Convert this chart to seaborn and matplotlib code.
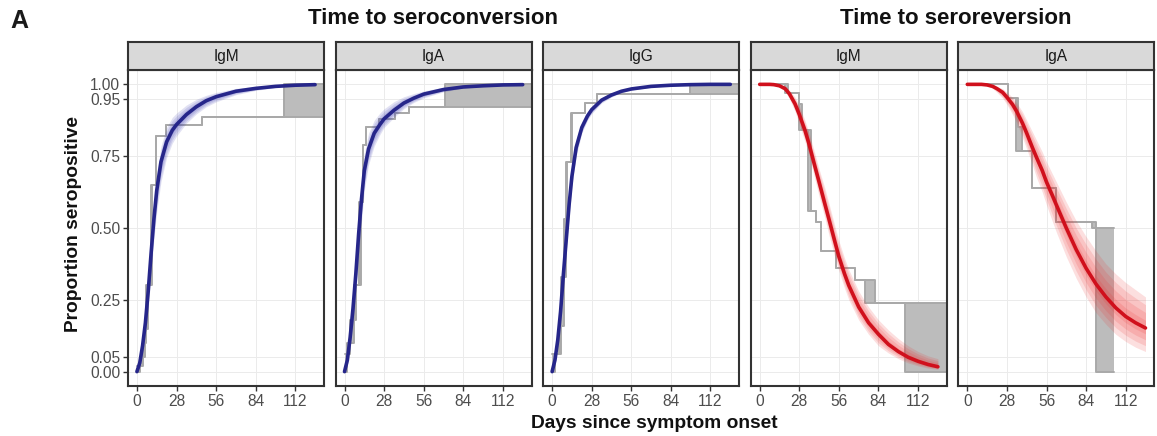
import numpy as np
import pandas as pd
import matplotlib
matplotlib.use("Agg")
import matplotlib.pyplot as plt
import seaborn as sns

# ---------------- data ----------------
conv_days = [0, 2, 4, 6, 8, 10, 12, 14, 17, 21, 25, 28, 35, 42, 49, 56, 70, 84, 98, 112, 126]

igm_conv_fit = [0, .03, .09, .17, .28, .41, .53, .63, .73, .80, .84, .86, .895, .922, .943, .957, .976, .986, .993, .997, .999]
igm_conv_lo = [0, .015, .06, .13, .22, .34, .46, .555, .66, .745, .795, .82, .865, .897, .922, .939, .964, .979, .989, .995, .998]
igm_conv_hi = [0, .045, .12, .21, .33, .47, .59, .69, .785, .85, .885, .90, .928, .948, .962, .972, .986, .993, .997, .999, 1.0]

iga_conv_fit = [0, .04, .12, .22, .34, .48, .60, .70, .775, .83, .86, .88, .91, .935, .952, .966, .982, .991, .995, .998, .999]
iga_conv_lo = [0, .02, .08, .16, .27, .40, .52, .63, .72, .785, .825, .85, .885, .915, .937, .953, .974, .987, .993, .997, .999]
iga_conv_hi = [0, .06, .16, .28, .41, .55, .67, .76, .83, .875, .90, .915, .94, .957, .968, .977, .99, .995, .998, .999, 1.0]

igg_conv_fit = [0, .04, .11, .21, .34, .46, .58, .68, .78, .85, .89, .912, .945, .963, .976, .984, .993, .997, .999, 1.0, 1.0]
igg_conv_lo = [0, .03, .09, .18, .30, .42, .54, .645, .75, .83, .875, .898, .935, .956, .971, .98, .99, .995, .998, .999, 1.0]
igg_conv_hi = [0, .05, .13, .24, .38, .50, .62, .71, .81, .87, .905, .925, .955, .97, .981, .988, .995, .998, 1.0, 1.0, 1.0]

rev_days = [0, 7, 10, 14, 18, 21, 25, 28, 32, 35, 39, 42, 46, 49, 53, 56, 60, 63, 70, 77, 84, 91, 98, 105, 112, 119, 126]

igm_rev_fit = [1, 1, .999, .995, .985, .967, .932, .895, .84, .79, .715, .66, .585, .53, .455, .40, .34, .30, .225, .17, .13, .095, .07, .05, .036, .025, .017]
igm_rev_lo = [1, 1, .997, .99, .975, .95, .905, .86, .80, .75, .67, .61, .535, .475, .40, .35, .29, .25, .18, .13, .09, .065, .045, .03, .02, .012, .008]
igm_rev_hi = [1, 1, 1, .999, .993, .98, .955, .925, .875, .83, .76, .705, .64, .585, .51, .455, .395, .355, .28, .225, .18, .145, .115, .09, .07, .055, .045]

iga_rev_fit = [1, 1, 1, .998, .993, .985, .972, .955, .93, .905, .865, .83, .78, .745, .70, .66, .615, .58, .50, .425, .36, .305, .26, .222, .192, .17, .152]
iga_rev_lo = [1, 1, 1, .995, .985, .972, .952, .93, .895, .865, .815, .775, .72, .675, .625, .58, .525, .485, .40, .325, .26, .205, .165, .13, .105, .085, .07]
iga_rev_hi = [1, 1, 1, 1, .998, .993, .985, .972, .955, .935, .905, .875, .835, .805, .765, .73, .69, .66, .59, .525, .47, .42, .375, .34, .31, .285, .26]

# nonparametric (interval-censored) step estimates: start of interval, lower, upper
igm_conv_t = [0, 2, 4, 5.6, 6.4, 8, 9.8, 10.5, 13.8, 20.8, 46, 104]
igm_conv_slo = [0, .02, .05, .10, .15, .30, .30, .65, .82, .86, .885, .885]
igm_conv_shi = [.02, .05, .10, .15, .30, .30, .65, .65, .82, .86, .885, 1.0]
igm_conv_end = 132

iga_conv_t = [0, 2, 4, 7, 8, 10.5, 11.7, 12.8, 15.2, 24.5, 36, 45.4, 71.2]
iga_conv_slo = [0, .06, .10, .18, .30, .30, .59, .79, .85, .88, .90, .92, .92]
iga_conv_shi = [.06, .10, .18, .30, .30, .59, .59, .79, .85, .88, .90, .92, 1.0]
iga_conv_end = 132

igg_conv_t = [0, 2, 5, 6, 8.6, 9.8, 10.8, 13.3, 14.3, 23.6, 31.8, 97.4]
igg_conv_slo = [0, .06, .06, .16, .33, .53, .73, .73, .90, .936, .965, .965]
igg_conv_shi = [.06, .06, .16, .33, .53, .73, .73, .90, .90, .936, .965, 1.0]
igg_conv_end = 132

igm_rev_t = [0, 18, 20, 28, 30, 34, 36.5, 39.7, 43.2, 53.7, 67.7, 74.7, 81.7, 102.7]
igm_rev_slo = [1.0, .97, .97, .84, .84, .56, .56, .52, .42, .36, .32, .24, .24, 0.0]
igm_rev_shi = [1.0, 1.0, .97, .93, .84, .84, .56, .52, .42, .36, .32, .32, .24, .24]
igm_rev_end = 132

iga_rev_t = [0, 29, 34.5, 36, 38.5, 45.4, 62.9, 88, 90.9]
iga_rev_slo = [1.0, .954, .767, .767, .767, .64, .52, .50, 0.0]
iga_rev_shi = [1.0, .954, .954, .85, .767, .64, .52, .52, .50]
iga_rev_end = 103.9

strip_labels = ["IgM", "IgA", "IgG", "IgM", "IgA"]
x_ticks = [0, 28, 56, 84, 112]
y_ticks = [0.00, 0.05, 0.25, 0.50, 0.75, 0.95, 1.00]
y_ticklabels = ["0.00", "0.05", "0.25", "0.50", "0.75", "0.95", "1.00"]

# ---------------- styling ----------------
sns.set_theme(style="white")
plt.rcParams["font.family"] = ["Liberation Sans", "DejaVu Sans"]

W, H = 1157, 436
fig = plt.figure(figsize=(W / 100, H / 100), dpi=100)

def fx(px):
    return px / W

def fy(py):
    return 1 - py / H

panel_left = [128, 335.6, 543.2, 750.8, 958.4]
pw = 196
top, bottom, strip_top = 70, 386, 42

BLUE_LINE, BLUE_BAND = "#26268a", "#3c3cb0"
RED_LINE, RED_BAND = "#d0101c", "#ee2a2a"

panels = [
    (conv_days, igm_conv_fit, igm_conv_lo, igm_conv_hi, igm_conv_t, igm_conv_slo, igm_conv_shi, igm_conv_end, "conv"),
    (conv_days, iga_conv_fit, iga_conv_lo, iga_conv_hi, iga_conv_t, iga_conv_slo, iga_conv_shi, iga_conv_end, "conv"),
    (conv_days, igg_conv_fit, igg_conv_lo, igg_conv_hi, igg_conv_t, igg_conv_slo, igg_conv_shi, igg_conv_end, "conv"),
    (rev_days, igm_rev_fit, igm_rev_lo, igm_rev_hi, igm_rev_t, igm_rev_slo, igm_rev_shi, igm_rev_end, "rev"),
    (rev_days, iga_rev_fit, iga_rev_lo, iga_rev_hi, iga_rev_t, iga_rev_slo, iga_rev_shi, iga_rev_end, "rev"),
]

for i, (days, fit, lo, hi, st, slo, shi, send, kind) in enumerate(panels):
    left = panel_left[i]
    ax = fig.add_axes([fx(left), fy(bottom), pw / W, (bottom - top) / H])
    ax.set_facecolor("white")
    ax.set_xlim(-6.3, 132.3)
    ax.set_ylim(-0.05, 1.05)
    ax.set_xticks(x_ticks)
    ax.set_xticklabels([str(v) for v in x_ticks])
    ax.set_yticks(y_ticks)
    ax.grid(True, color="#ebebeb", lw=0.7)
    ax.set_axisbelow(True)

    # step estimate
    sx = list(st) + [send]
    sl = list(slo) + [slo[-1]]
    sh = list(shi) + [shi[-1]]
    ax.fill_between(sx, sl, sh, step="post", color="#bcbcbc", lw=0, zorder=2)
    ax.step(sx, sl, where="post", color="#a9a9a9", lw=1.4, zorder=2)
    ax.step(sx, sh, where="post", color="#a9a9a9", lw=1.4, zorder=2)

    # posterior band (layered)
    d = np.array(days, float)
    f_ = np.array(fit, float)
    l_ = np.array(lo, float)
    h_ = np.array(hi, float)
    band_col = BLUE_BAND if kind == "conv" else RED_BAND
    line_col = BLUE_LINE if kind == "conv" else RED_LINE
    for frac in (1.0, 0.75, 0.5, 0.25):
        ax.fill_between(d, f_ - frac * (f_ - l_), f_ + frac * (h_ - f_),
                        color=band_col, alpha=0.15, lw=0, zorder=3)

    df = pd.DataFrame({"day": days, "p": fit})
    sns.lineplot(data=df, x="day", y="p", ax=ax, color=line_col, lw=2.6,
                 zorder=4, estimator=None, sort=False)
    ax.set_xlabel("")
    ax.set_ylabel("")

    for s in ax.spines.values():
        s.set_color("#333333")
        s.set_linewidth(1.5)

    ax.tick_params(axis="x", bottom=True, length=3.5, width=1.0, color="#333333",
                   labelsize=11.2, labelcolor="#4d4d4d", pad=2)
    if i == 0:
        ax.set_yticklabels(y_ticklabels)
        ax.tick_params(axis="y", left=True, length=3.5, width=1.0, color="#333333",
                       labelsize=11.2, labelcolor="#4d4d4d", pad=2)
    else:
        ax.tick_params(axis="y", left=False, labelleft=False)

    # facet strip
    sax = fig.add_axes([fx(left), fy(top), pw / W, (top - strip_top) / H])
    sax.set_facecolor("#d9d9d9")
    sax.set_xticks([])
    sax.set_yticks([])
    for s in sax.spines.values():
        s.set_color("#333333")
        s.set_linewidth(1.5)
    sax.text(0.5, 0.5, strip_labels[i], ha="center", va="center",
             fontsize=11.2, color="#1a1a1a", transform=sax.transAxes)

# titles and labels
fig.text(fx(10), fy(21), "A", fontsize=18, fontweight="bold", va="center", ha="left", color="#1a1a1a")
fig.text(fx(433), fy(18), "Time to seroconversion",
         fontsize=16, fontweight="bold", ha="center", va="center", color="#111111")
fig.text(fx(956), fy(18), "Time to seroreversion",
         fontsize=16, fontweight="bold", ha="center", va="center", color="#111111")
fig.text(fx(73), fy(224), "Proportion seropositive", rotation=90, fontsize=13.8,
         fontweight="bold", ha="center", va="center", color="#111111")
fig.text(fx(654), fy(423), "Days since symptom onset", fontsize=13.8,
         fontweight="bold", ha="center", va="center", color="#111111")

fig.savefig("out.png", dpi=100, facecolor="white")
